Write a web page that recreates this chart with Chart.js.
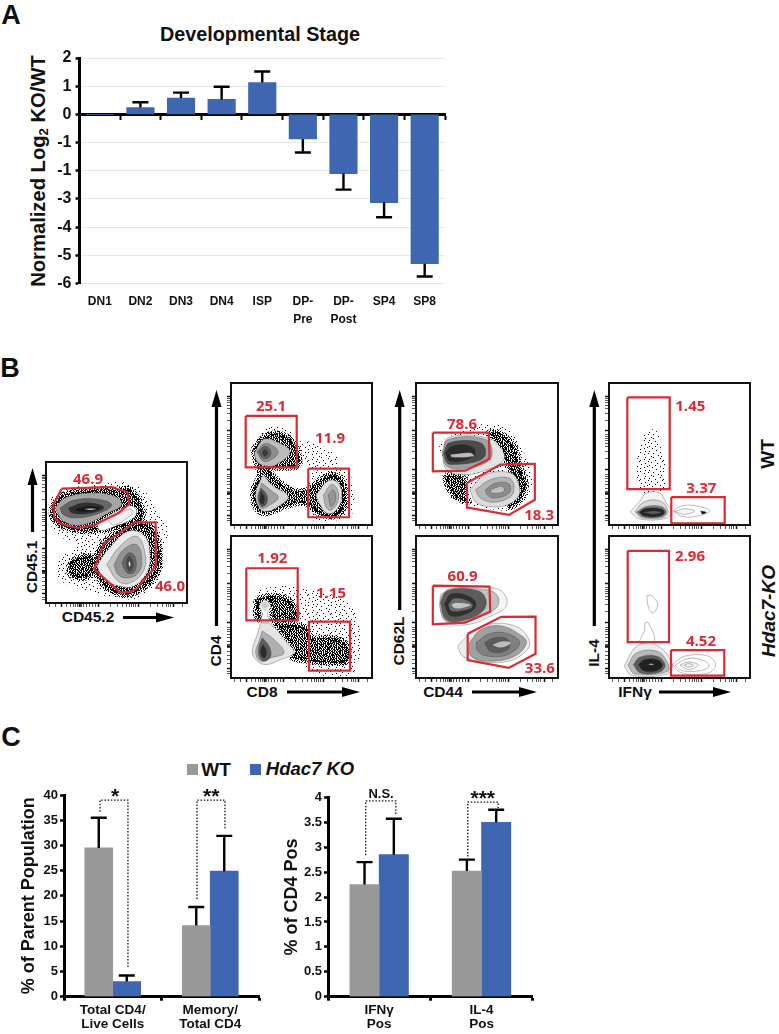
<!DOCTYPE html>
<html>
<head>
<meta charset="utf-8">
<title>Hdac7 figure</title>
<script src="https://cdn.jsdelivr.net/npm/chart.js@4/dist/chart.umd.js"></script>
<style>
    html, body { margin: 0; padding: 0; background: #fff; }
    #page { position: relative; width: 779px; height: 1034px; overflow: hidden;
        font-family: "Liberation Sans", sans-serif; font-weight: bold; color: #111; }
    #page canvas, #page svg { position: absolute; }
    .txt { position: absolute; white-space: nowrap; transform: translate(-50%, -50%); line-height: 1; }
    .rot { transform: translate(-50%, -50%) rotate(-90deg); }
    .swatch { position: absolute; width: 11px; height: 11px; }
    sub { font-size: 0.65em; vertical-align: -0.25em; line-height: 0; }
</style>
</head>
<body>
<div id="page">
    <div class="txt" style="left:11px;top:15px;font-size:27px">A</div>
    <div class="txt" style="left:10px;top:368px;font-size:27px">B</div>
    <div class="txt" style="left:11px;top:737px;font-size:27px">C</div>
    <div class="txt" style="left:260px;top:35px;font-size:19.8px">Developmental Stage</div>
    <div class="txt rot" style="left:38px;top:171px;font-size:20.2px">Normalized Log<sub>2</sub> KO/WT</div>

    <div class="txt rot" style="left:32px;top:567px;font-size:15.5px">CD45.1</div>
    <div class="txt" style="left:88px;top:617px;font-size:15.5px">CD45.2</div>
    <div class="txt rot" style="left:216px;top:651px;font-size:15.5px">CD4</div>
    <div class="txt" style="left:262px;top:692px;font-size:15.5px">CD8</div>
    <div class="txt rot" style="left:399px;top:641px;font-size:15.5px">CD62L</div>
    <div class="txt" style="left:443px;top:692px;font-size:15.5px">CD44</div>
    <div class="txt rot" style="left:594px;top:653px;font-size:15.5px">IL-4</div>
    <div class="txt" style="left:635px;top:692px;font-size:15.5px">IFNγ</div>
    <div class="txt rot" style="left:767px;top:454px;font-size:19px">WT</div>
    <div class="txt rot" style="left:768px;top:611px;font-size:19px;font-style:italic">Hdac7-KO</div>

    <div class="swatch" style="left:187px;top:764px;background:#999999"></div>
    <div class="txt" style="left:216px;top:769px;font-size:19px">WT</div>
    <div class="swatch" style="left:250px;top:764px;background:#3f67b1"></div>
    <div class="txt" style="left:310px;top:769px;font-size:18.5px;font-style:italic">Hdac7 KO</div>

    <canvas id="stage"></canvas>
    <canvas id="cd45"></canvas>
    <canvas id="cd4_wt"></canvas>
    <canvas id="cd4_ko"></canvas>
    <canvas id="cd62_wt"></canvas>
    <canvas id="cd62_ko"></canvas>
    <canvas id="il4_wt"></canvas>
    <canvas id="il4_ko"></canvas>
    <canvas id="parent"></canvas>
    <canvas id="cd4pos"></canvas>
    <svg id="arrows" width="779" height="1034" style="left:0;top:0"></svg>
</div>
<script>
// panel A
const stage_labels = ["DN1", "DN2", "DN3", "DN4", "ISP", ["DP-", "Pre"], ["DP-", "Post"], "SP4", "SP8"];
const stage_values = [0, 0.24, 0.58, 0.53, 1.13, -0.87, -2.1, -3.13, -5.3];
const stage_err = [null, 0.43, 0.77, 0.98, 1.52, -1.35, -2.67, -3.65, -5.75];
const stage_tick_values = [2, 1, 0, -1, -2, -3, -4, -5, -6];
const stage_tick_labels = ["2", "1", "0", "-1", "-1", "-3", "-4", "-5", "-6"];

// panel C
const parent_labels = [["Total CD4/", "Live Cells"], ["Memory/", "Total CD4"]];
const parent_wt = [29.5, 14.1];
const parent_ko = [3, 24.9];
const parent_wt_err = [35.5, 17.8];
const parent_ko_err = [4.2, 31.9];
const parent_brackets = [[-0.13, 36.7, 39, 0.156, 5.6], [0.864, 19.4, 39, 1.151, 33.3]];
const parent_marks = [["*", 0.023, 40.2], ["**", 1.01, 40.2]];

const cd4pos_labels = [["IFNγ", "Pos"], ["IL-4", "Pos"]];
const cd4pos_wt = [2.25, 2.52];
const cd4pos_ko = [2.85, 3.5];
const cd4pos_wt_err = [2.7, 2.75];
const cd4pos_ko_err = [3.57, 3.75];
const cd4pos_brackets = [[-0.131, 2.84, 3.93, 0.162, 3.645], [0.866, 2.81, 3.905, 1.162, 3.785]];
const cd4pos_marks = [["N.S.", 0.018, 4.06], ["***", 1.012, 4.03]];

// panel B, flow plots. all axes run 0-141, pairs are x,y
const flow_x_ticks = [3, 9, 15.7, 20, 24, 27, 29, 31, 33.3, 34, 35, 37, 40, 43, 46, 49, 52.3, 64, 71, 76, 80, 83, 85, 87, 89, 92.3, 104, 111, 116, 120, 122, 124, 127.3, 136];
const flow_y_ticks = [4, 6, 9.3, 14, 18, 22, 26, 30, 31, 31.7, 32.5, 33, 36, 40, 43, 46, 48, 50, 55, 66, 73, 78, 81, 84, 86, 88, 90, 94, 104, 111, 116, 119, 122, 124, 126, 128];

const cd45_gates = [
    [15.7, 114.3, 65.7, 116, 81.3, 110.7, 83.3, 99, 72.3, 90, 47.3, 77.3, 30.7, 75, 15.7, 79, 8.3, 85, 7.3, 98.3],
    [89, 80.7, 109.7, 80.7, 109.7, 36.7, 90.7, 14.3, 83.3, 10.7, 74, 10.7, 48, 34, 58, 59.3]
];
const cd45_gate_labels = [["46.9", 42, 123], ["46.0", 124, 16]];
const cd45_sparse = [
    [74, 121.7, 97.3, 113.3, 110.7, 91.7, 122.3, 75, 115.7, 46.7, 117.3, 30, 90.7, 5, 60.7, 6.7, 34, 15, 14, 23.3, 12.3, 43.3, 30.7, 56.7, 14, 66.7, 4, 80, 4, 103.3, 17.3, 113.3, 44, 118.3]
];
const cd45_dense = [
    [5.7, 96.7, 17.3, 108.3, 44, 113.3, 70.7, 113.3, 84, 113.3, 95.7, 96.7, 94, 80, 70.7, 75, 37.3, 71.7, 15.7, 76.7, 6.7, 85],
    [47.3, 35, 55.7, 58.3, 84, 78.3, 104, 76.7, 112.3, 60, 112.3, 33.3, 97.3, 15, 77.3, 8.3, 57.3, 18.3],
    [24, 41, 37.3, 47, 50, 44, 49, 31, 35.7, 25, 24, 29]
];
const cd45_tail = [[50.7, 80, 70.7, 91.7, 84, 97.3, 90.7, 93, 87.3, 85, 69, 76.7, 54, 72.7], [62, 82, 74, 90, 84, 94, 87, 91, 80, 84, 68, 78]];
const cd45_top = [
    [9, 95, 19, 105, 44, 110, 69, 106.7, 75.7, 98.3, 62.3, 90, 37.3, 78.3, 17.3, 81.7],
    [14, 95, 27.3, 102.7, 50.7, 104, 65.7, 98.3, 54, 90, 30.7, 85, 17.3, 88.3],
    [22.3, 95, 37.3, 100, 55.7, 97.7, 57.3, 94, 40.7, 89.3, 25.7, 90.3],
    [29, 94.3, 44, 96.7, 54, 95, 44, 91.7, 32.3, 91.7],
    [38, 94, 44, 94.4, 50, 94, 44, 93]
];
const cd45_bottom = [
    [50.7, 36.7, 60.7, 51.7, 82.3, 71.7, 99, 66.7, 104, 46.7, 100.7, 30, 87.3, 16.7, 74, 16.7, 59, 23.3],
    [60.7, 38.3, 74, 56.7, 90.7, 66.7, 99, 50, 97.3, 31.7, 84, 20, 72.3, 21.7],
    [68, 38.3, 77.3, 53.3, 90.7, 58.3, 95.7, 43.3, 92.3, 30, 81.3, 25, 72.3, 28.3],
    [75.7, 40, 82.3, 50, 89, 46.7, 89, 31.7, 81.3, 30],
    [80, 39.3, 83.3, 46.7, 87.3, 38.3, 83.3, 31.7],
    [82.5, 40, 83.5, 42, 84.5, 38, 83.5, 36]
];
const cd45_dots = [88, 122, 92, 118, 84, 125, 101, 110, 106, 104, 112, 96, 118, 88, 124, 84, 122, 72, 128, 66, 119, 60, 128, 42, 124, 36, 121, 22, 112, 14, 126, 92, 131, 78, 8, 60, 12, 52, 20, 60, 26, 66, 10, 36, 16, 18, 28, 10, 40, 8, 50, 12, 104, 8, 128, 28, 120, 12, 133, 100];

const cd4_wt_gates = [[14.7, 108.3, 65.7, 108.3, 65.7, 57.3, 14.7, 57.3], [77.3, 56, 118, 56, 118, 7.7, 77.3, 7.7]];
const cd4_wt_gate_labels = [["25.1", 40, 117.7], ["11.9", 99, 85.7]];
const cd4_wt_sparse = [
    [65.7, 83.3, 84, 81.7, 107.3, 66.7, 104, 56.7, 80.7, 56.7, 65.7, 66.7],
    [77.3, 53.3, 116.3, 53.3, 122.3, 13.3, 107.3, 5, 77.3, 8.3],
    [26, 84, 36, 96, 50, 98, 62, 90, 58, 76]
];
const cd4_wt_dense = [
    [22.3, 75, 34, 88.3, 50.7, 90, 64.7, 78.3, 67.3, 59.3, 52.3, 56.7, 39, 56, 44, 46.7, 60.7, 35, 77.3, 35, 89, 45, 100.7, 50, 110.7, 45, 114, 23.3, 107.3, 10, 90.7, 10, 72.3, 21.7, 53.7, 18.3, 34, 11.7, 24, 18.3, 22.3, 35, 29, 50, 25.7, 60]
];
const cd4_wt_a = [
    [23.3, 71.7, 32.3, 85, 44, 83.3, 59, 72.7, 44, 59.3, 32.3, 59.3, 25.7, 63.3],
    [25.7, 72.7, 33.3, 80.7, 42.3, 78.3, 47.3, 71.7, 40.7, 65, 32.3, 63.3],
    [27.3, 72.7, 33.3, 78.3, 39, 75, 39, 68.3, 32.3, 66],
    [31.3, 72.7, 34.7, 75, 36.7, 70.7, 33.3, 68.3]
];
const cd4_wt_b = [
    [32.3, 50.7, 40.7, 40, 57.3, 28.3, 47.3, 18.3, 34, 13.3, 27.3, 18.3, 24.7, 31.7, 29, 43.3],
    [30.7, 41.7, 39, 35, 47.3, 27.3, 39, 20, 30.7, 16.7, 26.7, 26.7],
    [30, 36.7, 35.7, 30, 35.7, 21.7, 30.7, 18.3, 27.3, 26.7],
    [30, 33.3, 33.3, 28.3, 32.3, 20.7, 29, 23.3]
];
const cd4_wt_c = [
    [84.7, 29.3, 97.3, 44, 107.3, 41.7, 110.7, 26.7, 104, 13.3, 95.7, 11.7, 89, 20],
    [92.3, 29.3, 100, 40, 105.7, 36.7, 107.3, 25, 100.7, 15, 95.7, 16.7],
    [97.3, 30, 102.3, 35, 104.7, 25, 100, 18.3]
];
const cd4_wt_dots = [72, 90, 78, 87, 84, 88, 90, 84, 95, 76, 101, 72, 108, 76, 112, 66, 70, 72, 74, 66, 80, 74, 86, 70, 92, 66, 98, 60, 122, 34, 126, 20, 124, 10, 40, 7, 54, 12, 18, 14, 20, 30, 70, 14, 112, 56];

const cd4_ko_gates = [[15.3, 109, 66.7, 109, 66.7, 57.3, 15.3, 57.3], [78, 56, 119, 56, 119, 7.3, 78, 7.3]];
const cd4_ko_gate_labels = [["1.92", 41.3, 118.3], ["1.15", 100, 84]];
const cd4_ko_sparse = [[24.7, 86.7, 58, 91.7, 121, 70, 123, 5, 78, 6.7, 71.3, 40, 41.3, 53.3]];
const cd4_ko_dense = [
    [43, 55, 54.7, 53.3, 74.7, 50, 81.3, 40, 100.7, 40, 115.7, 33.3, 115.7, 16.7, 98, 15, 79.7, 16.7, 61.3, 20, 64.7, 26.7, 54.7, 40],
    [25.3, 78.3, 41.3, 81.7, 56.3, 78.3, 65.3, 66.7, 63, 57.3, 43, 56.7, 41.3, 65, 39.7, 75, 34, 78.3, 28, 73.3, 29.7, 58.3, 25.3, 60]
];
const cd4_ko_upper = [
    [28, 71.7, 34, 77.3, 39.7, 71.7, 36.3, 64, 38, 56, 30, 56, 31.3, 64],
    [30, 72, 34, 75.5, 37.5, 72, 34, 67.5],
    [32, 72, 34, 73.5, 35.5, 72, 34, 70]
];
const cd4_ko_lower = [
    [29.7, 55, 39.7, 53.3, 54.7, 36.7, 63, 25, 49.7, 18.3, 34.7, 13.3, 24.7, 18.3, 21.3, 26.7, 26.3, 43.3],
    [31.3, 46.7, 43, 38.3, 53, 25, 39.7, 20, 29.7, 16.7, 24.7, 25, 28, 36.7],
    [31.3, 40, 38, 31.7, 39.7, 21.7, 33, 16.7, 28, 21.7, 28, 31.7],
    [32, 33.3, 35.3, 26.7, 34, 20, 30.7, 21.7, 29.7, 28.3]
];
const cd4_ko_dots = [18, 88, 20, 76, 44, 88, 52, 96, 30, 92, 62, 86, 76, 78, 84, 76, 92, 72, 104, 70, 112, 64, 118, 60, 122, 44, 126, 24, 124, 10, 60, 10, 70, 12, 18, 40, 16, 20, 20, 8, 44, 6];

const cd62_wt_gates = [[16.7, 91.7, 72.3, 91.7, 73, 65.7, 49, 54, 16.7, 53.3], [50.7, 41.7, 84, 60, 118, 60.7, 118, 25, 92.3, 10, 51.3, 17.3]];
const cd62_wt_gate_labels = [["78.6", 45.7, 100], ["18.3", 122.3, 9.3]];
const cd62_wt_sparse = [[64, 100, 90.7, 96.7, 110.7, 63.3, 114, 33.3, 94, 15, 60.7, 18.3, 37.3, 23.3, 27.3, 43.3, 30.7, 50, 24, 80]];
const cd62_wt_dense = [
    [70.7, 91.7, 82.3, 91.7, 97.3, 78.3, 102.3, 60, 109, 40, 102.3, 23.3, 92.3, 18.3, 100.7, 40, 90.7, 60, 84, 76.7, 72.3, 90.3],
    [29, 50, 47.3, 46.7, 49, 40, 47.3, 28.3, 52.3, 23.3, 40.7, 26.7, 30.7, 40]
];
const cd62_wt_top = [
    [25.7, 71.7, 32.3, 86.7, 70.7, 86.7, 84, 76.7, 87.3, 65, 70.7, 55, 49, 50, 30.7, 55],
    [26.3, 71.7, 32.3, 85, 69, 85, 75.7, 71.7, 69, 61.7, 47.3, 56, 30.7, 58.3],
    [27.3, 71.7, 33.3, 81.7, 64, 81.7, 69, 70, 60.7, 63.3, 37.3, 60, 30.7, 61.7],
    [29, 71.7, 35.7, 78.3, 54, 78.3, 59, 71.7, 50.7, 65, 34, 63.3],
    [34, 70, 54, 71.7, 57.3, 68.3, 35.7, 67.3]
];
const cd62_wt_low = [
    [53.3, 35, 69, 50, 94, 51.7, 102.3, 40, 100.7, 26.7, 84, 18.3, 60.7, 21.7],
    [59, 35, 74, 45, 92.3, 46.7, 97.3, 38.3, 94, 28.3, 77.3, 22.7, 64, 26.7],
    [69, 35, 79, 41.7, 92.3, 40.7, 92.3, 31.7, 77.3, 26.7, 70.7, 30],
    [74, 35, 85.7, 38.3, 87.3, 33.3, 75.3, 31.7]
];
const cd62_wt_dots = [60, 104, 74, 98, 84, 98, 92, 92, 100, 88, 96, 84, 108, 78, 104, 70, 112, 58, 116, 46, 113, 26, 106, 18, 50, 14, 40, 18, 30, 28, 24, 36, 22, 46, 52, 110];

const cd62_ko_gates = [[16.7, 91.7, 73, 90.7, 73.7, 65.7, 48.7, 55, 16.7, 53.3], [51.3, 44, 84.7, 60.7, 118.7, 61, 118.7, 24, 92, 10, 51.3, 17.7]];
const cd62_ko_gate_labels = [["60.9", 46.3, 100.7], ["33.6", 123, 9.3]];
const cd62_ko_top = [
    [24.7, 83.3, 38, 89, 71.3, 90, 86.3, 85, 89.7, 71.7, 74.7, 61.7, 53, 53.3, 31.3, 55, 24.7, 66.7],
    [24, 80, 33, 88.3, 65, 88.3, 79.7, 83.3, 81.3, 71.7, 68, 62.7, 48, 55.7, 29.7, 56.7, 24, 68.3],
    [24, 75, 31.3, 86.7, 61.3, 86.7, 69.7, 76.7, 64.7, 65, 44.7, 56.7, 29.7, 58.3],
    [28, 73.3, 34.7, 83.3, 51.3, 81.7, 59.7, 73.3, 53, 65, 34.7, 61.7],
    [32, 73.3, 38, 79.3, 53, 76, 56.3, 70.7, 46.3, 66.7, 34.7, 66.7],
    [34.7, 72.7, 39.7, 75, 54.7, 72.7, 46.3, 69.3, 38, 69.3]
];
const cd62_ko_low = [
    [41.3, 31.7, 53, 43.3, 71.3, 53.3, 98, 51.7, 111.3, 40, 110.7, 28.3, 91.3, 16.7, 61.3, 16.7, 46.3, 21.7],
    [53, 35, 64.7, 48.3, 84.7, 51.7, 103, 43.3, 109.7, 35, 98, 21.7, 71.3, 16.7, 54.7, 21.7],
    [59.7, 35, 73, 44, 91.3, 44, 103, 35, 91.3, 23.3, 71.3, 21.7, 61.3, 26.7],
    [68, 35, 78, 40, 91.3, 38.3, 91.3, 28.3, 74.7, 26],
    [74.7, 32.7, 86.3, 36.7, 94.7, 35, 84.7, 30]
];
const cd62_ko_dots = [82, 100, 85, 92, 88, 104, 96, 98, 100, 88, 104, 80, 92, 78, 106, 70, 96, 70, 90, 90, 34, 44, 30, 38, 36, 30, 28, 34, 48, 48, 114, 50, 116, 34];

const il4_wt_gates = [[18.3, 126.7, 60.7, 126.7, 60.7, 35.7, 18.3, 35.7], [62.3, 27.7, 115.7, 27.7, 115.7, 1.7, 62.3, 1.7]];
const il4_wt_gate_labels = [["1.45", 81.3, 117.7], ["3.37", 92.3, 36]];
const il4_wt_sparse = [[35.7, 90, 45.7, 95, 52.3, 80, 55.7, 36.7, 30.7, 36.7, 29, 73.3], [32, 36, 54, 36, 50, 31, 36, 31]];
const il4_wt_main = [
    [21.3, 13.3, 30.7, 23.3, 37.3, 31.7, 50.7, 31.7, 57.3, 21.7, 62.3, 13.3, 57.3, 6.7, 30.7, 6],
    [25.7, 13.3, 35.7, 23.3, 52.3, 23.3, 59, 13.3, 54, 7.3, 32.3, 7.3],
    [27.3, 12.7, 37.3, 18.3, 52.3, 18.3, 57.3, 12.7, 52.3, 8, 34, 8],
    [30, 12.7, 37.3, 16.7, 52.3, 16, 55.7, 12.3, 50.7, 8.7, 35.7, 8.7],
    [34, 12.7, 44, 14, 52.3, 12.7, 44, 10.7]
];
const il4_wt_right = [
    [64, 14, 74, 19.3, 90.7, 18.3, 100.7, 14, 90.7, 9.3, 74, 8.3],
    [65.7, 13.3, 75.7, 16, 85.7, 14, 75.7, 10.7]
];
const il4_wt_spot = [[91.7, 14, 97.3, 12.7, 93.3, 11]];
const il4_wt_dots = [38, 96, 42, 90, 48, 88, 34, 84, 52, 82, 36, 78, 41, 72, 45, 68, 38, 64, 43, 60, 47, 56, 40, 52, 44, 48, 42, 44, 46, 41, 38, 42, 60, 66, 65, 62, 74, 44, 82, 36, 76, 52, 70, 24, 80, 22, 88, 22, 96, 20, 104, 12, 110, 12, 84, 6, 16, 12, 12, 12, 20, 9, 26, 38, 58, 40, 56, 34, 104, 16, 90, 4];

const il4_ko_gates = [[18.7, 126.3, 60, 126.3, 60, 35.7, 18.7, 35.7], [62, 27.7, 115.3, 27.7, 115.3, 2.3, 62, 2.3]];
const il4_ko_gate_labels = [["2.96", 81, 120], ["4.52", 92, 36]];
const il4_ko_thin = [
    [37.7, 81.7, 42.7, 81.7, 48.7, 73.3, 44.3, 64.7, 40, 68.7],
    [36, 55, 39.3, 55, 45.3, 36.7, 31, 35, 35.3, 46.7]
];
const il4_ko_main = [
    [15.3, 11.7, 26, 30, 37.7, 35, 47.7, 32.7, 59.3, 21.7, 63.3, 10, 56, 3.3, 22.7, 2.7],
    [18.7, 12.7, 27.7, 25, 47.7, 26.7, 57.7, 16.7, 58.7, 6.7, 26, 4],
    [24.3, 13.3, 31, 20.7, 47.7, 21.7, 56, 13.3, 51, 6, 31, 5.3],
    [29.3, 13.3, 36, 18.3, 47.7, 18.3, 53.3, 12.7, 47.7, 7.3, 34.3, 7.3],
    [39, 13.6, 42, 14.2, 45, 13.6, 42, 13]
];
const il4_ko_right = [
    [63.3, 13.3, 76, 21.7, 99.3, 21.7, 106.7, 13.3, 99.3, 5, 72.7, 5],
    [66, 12.7, 79.3, 19.3, 94.3, 17.3, 100, 11.7, 91, 7.3, 72.7, 7.3],
    [71, 12.7, 79.3, 16, 89.3, 12.7, 79.3, 8.3],
    [75.3, 12.7, 79.3, 14.3, 84.3, 12.7, 79.3, 10.7]
];
const il4_ko_dots = [36, 86, 34, 74, 38, 62, 32, 58, 44, 82, 100, 84, 78, 40, 110, 30, 116, 18];

const flow_arrows = [
    [32.5, 532, 32.5, 468], [123, 617.5, 174, 617.5],
    [216.5, 626, 216.5, 390], [287, 692, 360, 692],
    [399.7, 610, 399.7, 390], [472, 692, 537, 692],
    [594.3, 626, 594.3, 390], [659, 692, 731, 692]
];

const BLUE = "#3f67b1", GRAY = "#999999", RED = "#d92b35";
const FONT = "'Liberation Sans', sans-serif";

const STIPPLE_DENSE = [
    "##.#.###.##.#.##.#.",
    ".#.##.#..#.###.#.##",
    "#.###.##.#.#.##.#.#",
    "##.#.##.###.#.#.##.",
    ".##.#..##.#.###.#.#",
    "#.#.###.#.##.#.##.#",
    "##.#.#.##.#.###.#..",
    ".#.###.#.##.#.#.###",
    "#.##.#.###.#.##.#.#",
    "##.#.##.#.##.#.##..",
    ".###.#.#.###.##.#.#",
    "#.#.##.##.#.#.###.#",
    "##.#.#.###.##.#.#.#",
    ".#.##.##.#.#.##.###",
    "#.##.#.#.##.#.##.#.",
    "##.#.###.#.##.#.#.#",
    ".#.#.#.##.#.###.##."
];
const STIPPLE_MEDIUM = [
    "#.#..#.##.#",
    "..#.#...#..",
    "#...#.#.#.#",
    ".##...#...#",
    "#..#.#..##.",
    ".#...#.#...",
    "#.#.#...#.#",
    "..#..#.#..#",
    "#...#..#.#.",
    ".#.#..#...#",
    "#..#.#..#..",
    "..#...#.#.#",
    ".#..#.#...#"
];
const STIPPLE_SPARSE = [
    "....#..............#...",
    "...........#...........",
    "#.................#....",
    "......#.......#........",
    ".............#........#",
    "..#....................",
    "........#..........#...",
    "...............#.......",
    "#.....#................",
    "...........#.........#.",
    "...#..............#....",
    "..............#........",
    ".......#...............",
    "#..................#...",
    "...........#..#........",
    "....#.................#",
    "..................#....",
    ".........#.............",
    "..#.........#.........."
];

function pairs(flat) {
    const pts = [];
    for (let i = 0; i < flat.length; i += 2) pts.push({x: flat[i], y: flat[i + 1]});
    return pts;
}

function closed(flat) {
    const pts = pairs(flat);
    pts.push(pts[0]);
    return pts;
}

function make_pattern(rows) {
    const tile = document.createElement("canvas");
    tile.width = rows[0].length;
    tile.height = rows.length;
    const ctx = tile.getContext("2d");
    ctx.fillStyle = "#000";
    rows.forEach((row, y) => {
        [...row].forEach((c, x) => {
            if (c === "#") ctx.fillRect(x, y, 1, 1);
        });
    });
    return ctx.createPattern(tile, "repeat");
}

const dense_fill = make_pattern(STIPPLE_DENSE);
const medium_fill = make_pattern(STIPPLE_MEDIUM);
const sparse_fill = make_pattern(STIPPLE_SPARSE);

function sparse_set(flat) {
    return {data: closed(flat), showLine: true, fill: "shape", backgroundColor: sparse_fill,
        borderWidth: 0, pointRadius: 0, tension: 0.35};
}

function dense_set(flat) {
    return {data: closed(flat), showLine: true, fill: "shape", backgroundColor: dense_fill,
        borderColor: medium_fill, borderWidth: 6, pointRadius: 0, tension: 0.35};
}

function ring_set(flat, shade) {
    return {data: closed(flat), showLine: true, fill: "shape", backgroundColor: shade,
        borderColor: "rgba(50,50,50,0.55)", borderWidth: 0.6, pointRadius: 0, tension: 0.4};
}

function gate_set(flat) {
    return {data: closed(flat), showLine: true, fill: false, borderColor: RED,
        borderWidth: 2.2, pointRadius: 0, tension: 0};
}

function dot_set(flat) {
    return {data: pairs(flat), pointRadius: 0.7, pointStyle: "rect", backgroundColor: "#000",
        borderWidth: 0, showLine: false};
}

const box_and_labels = labels => ({
    id: "box_and_labels",
    afterDraw(chart) {
        const {ctx, chartArea: a, scales} = chart;
        ctx.save();
        ctx.strokeStyle = "#111";
        ctx.lineWidth = 2;
        ctx.strokeRect(a.left, a.top, a.right - a.left, a.bottom - a.top);
        ctx.fillStyle = RED;
        ctx.font = "bold 15px 'Open Sans', sans-serif";
        ctx.textAlign = "center";
        ctx.textBaseline = "middle";
        for (const [text, x, y] of labels) {
            ctx.fillText(text, scales.x.getPixelForValue(x), scales.y.getPixelForValue(y));
        }
        ctx.restore();
    }
});

function flow_chart(id, left, top, w, h, plot) {
    const canvas = document.getElementById(id);
    canvas.width = w + 8;
    canvas.height = h + 8;
    canvas.style.left = (left - 6) + "px";
    canvas.style.top = (top - 2) + "px";
    canvas.style.filter = "blur(0.45px)";
    const datasets = [];
    for (const a of plot.sparse || []) datasets.push(sparse_set(a));
    for (const a of plot.dense || []) datasets.push(dense_set(a));
    for (const d of plot.dots || []) datasets.push(dot_set(d));
    for (const [rings, shades] of plot.pops) {
        rings.forEach((r, i) => datasets.push(ring_set(r, shades[i])));
    }
    for (const g of plot.gates) datasets.push(gate_set(g));
    datasets.reverse();
    const axis = (ticks, size_key) => ({
        type: "linear", min: 0, max: 141,
        afterBuildTicks: s => { s.ticks = ticks.map(value => ({value})); },
        afterFit: s => { s[size_key] = 6; },
        ticks: {display: false},
        border: {display: false},
        grid: {drawOnChartArea: false, tickLength: 4, tickColor: "#111",
            tickWidth: c => [15.7, 33.3, 52.3, 92.3, 127.3, 9.3, 31.7, 55, 94, 128].includes(c.tick.value) ? 1.5 : 0.7}
    });
    new Chart(canvas, {
        type: "scatter",
        data: {datasets},
        options: {
            responsive: false,
            animation: false,
            events: [],
            layout: {padding: {top: 2, right: 2}},
            plugins: {legend: {display: false}, tooltip: {enabled: false}},
            scales: {x: axis(flow_x_ticks, "height"), y: axis(flow_y_ticks, "width")}
        },
        plugins: [box_and_labels(plot.labels)]
    });
}

// whiskers and brackets go through the chart's own scales
const whiskers = (series, cap) => ({
    id: "whiskers",
    afterDatasetsDraw(chart) {
        const {ctx, scales} = chart;
        ctx.save();
        ctx.strokeStyle = "#000";
        ctx.lineWidth = 2.4;
        series.forEach((errs, i) => {
            const meta = chart.getDatasetMeta(i);
            errs.forEach((err, j) => {
                if (err === null) return;
                const x = meta.data[j].x,
                    y0 = scales.y.getPixelForValue(chart.data.datasets[i].data[j]),
                    y1 = scales.y.getPixelForValue(err);
                ctx.beginPath();
                ctx.moveTo(x, y0);
                ctx.lineTo(x, y1);
                ctx.moveTo(x - cap, y1);
                ctx.lineTo(x + cap, y1);
                ctx.stroke();
            });
        });
        ctx.restore();
    }
});

const brackets = (lines, marks) => ({
    id: "brackets",
    afterDraw(chart) {
        const {ctx, scales: {x, y}} = chart;
        ctx.save();
        ctx.strokeStyle = "#111";
        ctx.lineWidth = 1.3;
        ctx.setLineDash([1.5, 1.7]);
        for (const [x0, y0, top, x1, y1] of lines) {
            ctx.beginPath();
            ctx.moveTo(x.getPixelForValue(x0), y.getPixelForValue(y0));
            ctx.lineTo(x.getPixelForValue(x0), y.getPixelForValue(top));
            ctx.lineTo(x.getPixelForValue(x1), y.getPixelForValue(top));
            ctx.lineTo(x.getPixelForValue(x1), y.getPixelForValue(y1));
            ctx.stroke();
        }
        ctx.fillStyle = "#111";
        ctx.textAlign = "center";
        ctx.textBaseline = "middle";
        for (const [text, mx, my] of marks) {
            const stars = text.includes("*");
            ctx.font = stars ? "bold 21px " + FONT : "bold 13px " + FONT;
            ctx.fillText(text, x.getPixelForValue(mx), y.getPixelForValue(my) + (stars ? 3 : 0));
        }
        ctx.restore();
    }
});

function place(id, left, top, w, h) {
    const canvas = document.getElementById(id);
    canvas.width = w;
    canvas.height = h;
    canvas.style.left = left + "px";
    canvas.style.top = top + "px";
    return canvas;
}

function stage_chart() {
    new Chart(place("stage", 0, 28, 460, 302), {
        type: "bar",
        data: {
            labels: stage_labels,
            datasets: [{data: stage_values, backgroundColor: BLUE, barThickness: 27.5, borderSkipped: false}]
        },
        options: {
            responsive: false,
            animation: false,
            events: [],
            layout: {padding: {top: 30, right: 15}},
            plugins: {legend: {display: false}, tooltip: {enabled: false}},
            scales: {
                x: {
                    afterFit: s => { s.height = 46.5; },
                    border: {display: false},
                    grid: {display: false},
                    ticks: {color: "#111", padding: 1, maxRotation: 0, autoSkip: false,
                        font: {family: FONT, weight: "bold", size: 12, lineHeight: 1.5}}
                },
                x2: {
                    type: "category",
                    labels: stage_labels,
                    position: {y: 0},
                    offset: true,
                    z: 1,
                    border: {color: "#000", width: 3},
                    ticks: {display: false},
                    grid: {offset: true, drawOnChartArea: false, tickLength: 4, tickWidth: 2, tickColor: "#000"}
                },
                y: {
                    min: -6,
                    max: 2,
                    afterFit: s => { s.width = 79.5; },
                    border: {color: "#000", width: 3},
                    grid: {color: "#e8e8e8", lineWidth: 1, tickColor: "#000", tickWidth: 2.5, tickLength: 4},
                    ticks: {
                        stepSize: 1, color: "#111", padding: 4,
                        font: {family: FONT, weight: "bold", size: 16},
                        callback: v => stage_tick_labels[stage_tick_values.indexOf(v)]
                    }
                }
            }
        },
        plugins: [whiskers([stage_err], 8)]
    });
}

function group_chart(id, left, width, y_width, pad_top, pad_right, opts) {
    new Chart(place(id, left, 780, width, 254), {
        type: "bar",
        data: {
            labels: opts.labels,
            datasets: [
                {label: "WT", data: opts.wt, backgroundColor: GRAY, barThickness: opts.bar},
                {label: "Hdac7 KO", data: opts.ko, backgroundColor: BLUE, barThickness: opts.bar}
            ]
        },
        options: {
            responsive: false,
            animation: false,
            events: [],
            layout: {padding: {top: pad_top, right: pad_right}},
            plugins: {legend: {display: false}, tooltip: {enabled: false}},
            scales: {
                x: {
                    afterFit: s => { s.height = 37.3; },
                    z: 1,
                    border: {color: "#000", width: 3},
                    grid: {drawOnChartArea: false, tickLength: 4, tickWidth: 3, tickColor: "#000"},
                    ticks: {color: "#111", padding: 3, maxRotation: 0, autoSkip: false,
                        font: {family: FONT, weight: "bold", size: 13.5, lineHeight: 1}}
                },
                y: {
                    min: 0,
                    max: opts.max,
                    afterFit: s => { s.width = y_width; },
                    border: {color: "#000", width: 3},
                    grid: {drawOnChartArea: false, tickLength: 4, tickWidth: 2.5, tickColor: "#000"},
                    title: {display: true, text: opts.title, color: "#111",
                        padding: {top: opts.title_pad, bottom: 0},
                        font: {family: FONT, weight: "bold", size: 18}},
                    ticks: {stepSize: opts.step, color: "#111", padding: 2,
                        font: {family: FONT, weight: "bold", size: 13},
                        callback: v => String(v)}
                }
            }
        },
        plugins: [whiskers([opts.wt_err, opts.ko_err], 8), brackets(opts.brackets, opts.marks)]
    });
}

function draw_arrows() {
    const svg = document.getElementById("arrows");
    let out = "";
    for (const [x1, y1, x2, y2] of flow_arrows) {
        if (x1 === x2) {
            out += `<line x1="${x1}" y1="${y1}" x2="${x2}" y2="${y2 + 12}" stroke="#000" stroke-width="3.2"/>`;
            out += `<polygon points="${x2},${y2} ${x2 - 5},${y2 + 17} ${x2 + 5},${y2 + 17}" fill="#000"/>`;
        } else {
            out += `<line x1="${x1}" y1="${y1}" x2="${x2 - 12}" y2="${y2}" stroke="#000" stroke-width="3.2"/>`;
            out += `<polygon points="${x2},${y2} ${x2 - 18},${y2 - 5} ${x2 - 18},${y2 + 5}" fill="#000"/>`;
        }
    }
    svg.innerHTML = out;
}

stage_chart();

flow_chart("cd45", 46, 462, 141, 141, {
    sparse: cd45_sparse, dense: cd45_dense, dots: cd45_dots,
    pops: [
        [cd45_tail, ["#ffffff", "#eeeeee"]],
        [cd45_top, ["#a6a6a6", "#666666", "#2e2e2e", "#141414", "#d8d8d8"]],
        [cd45_bottom, ["#ececec", "#c4c4c4", "#929292", "#666666", "#484848", "#ffffff"]]
    ],
    gates: cd45_gates, labels: cd45_gate_labels
});
flow_chart("cd4_wt", 231, 383, 141, 142, {
    sparse: cd4_wt_sparse, dense: cd4_wt_dense, dots: cd4_wt_dots,
    pops: [
        [cd4_wt_a, ["#bcbcbc", "#8c8c8c", "#606060", "#3a3a3a"]],
        [cd4_wt_b, ["#d4d4d4", "#a0a0a0", "#585858", "#2c2c2c"]],
        [cd4_wt_c, ["#dedede", "#b0b0b0", "#949494"]]
    ],
    gates: cd4_wt_gates, labels: cd4_wt_gate_labels
});
flow_chart("cd4_ko", 231, 536, 141, 142, {
    sparse: cd4_ko_sparse, dense: cd4_ko_dense, dots: cd4_ko_dots,
    pops: [
        [cd4_ko_upper, ["#ffffff", "#f0f0f0", "#d8d8d8"]],
        [cd4_ko_lower, ["#e4e4e4", "#b0b0b0", "#5c5c5c", "#2a2a2a"]]
    ],
    gates: cd4_ko_gates, labels: cd4_ko_gate_labels
});
flow_chart("cd62_wt", 416, 383, 142, 142, {
    sparse: cd62_wt_sparse, dense: cd62_wt_dense, dots: cd62_wt_dots,
    pops: [
        [cd62_wt_top, ["#e4e4e4", "#a0a0a0", "#4c4c4c", "#2a2a2a", "#bcbcbc"]],
        [cd62_wt_low, ["#dcdcdc", "#b4b4b4", "#8c8c8c", "#c0c0c0"]]
    ],
    gates: cd62_wt_gates, labels: cd62_wt_gate_labels
});
flow_chart("cd62_ko", 416, 536, 142, 142, {
    dots: cd62_ko_dots,
    pops: [
        [cd62_ko_top, ["#f6f6f6", "#c0c0c0", "#5c5c5c", "#303030", "#6c6c6c", "#c4c4c4"]],
        [cd62_ko_low, ["#ececec", "#a0a0a0", "#808080", "#5c5c5c", "#bcbcbc"]]
    ],
    gates: cd62_ko_gates, labels: cd62_ko_gate_labels
});
flow_chart("il4_wt", 609, 383, 141, 142, {
    sparse: il4_wt_sparse, dots: il4_wt_dots,
    pops: [
        [il4_wt_main, ["#f4f4f4", "#d8d8d8", "#808080", "#262626", "#5c5c5c"]],
        [il4_wt_right, ["#ffffff", "#f6f6f6"]],
        [il4_wt_spot, ["#111111"]]
    ],
    gates: il4_wt_gates, labels: il4_wt_gate_labels
});
flow_chart("il4_ko", 609, 536, 141, 142, {
    dots: il4_ko_dots,
    pops: [
        [il4_ko_thin, ["#ffffff", "#ffffff"]],
        [il4_ko_main, ["#ececec", "#b8b8b8", "#5c5c5c", "#202020", "#ffffff"]],
        [il4_ko_right, ["#ffffff", "#ffffff", "#f6f6f6", "#f0f0f0"]]
    ],
    gates: il4_ko_gates, labels: il4_ko_gate_labels
});

group_chart("parent", 0, 270, 64, 15, 11, {
    labels: parent_labels, wt: parent_wt, ko: parent_ko, wt_err: parent_wt_err, ko_err: parent_ko_err,
    brackets: parent_brackets, marks: parent_marks, max: 40, step: 5, bar: 28,
    title: "% of Parent Population", title_pad: 18
});
group_chart("cd4pos", 270, 280, 58, 17.3, 17.3, {
    labels: cd4pos_labels, wt: cd4pos_wt, ko: cd4pos_ko, wt_err: cd4pos_wt_err, ko_err: cd4pos_ko_err,
    brackets: cd4pos_brackets, marks: cd4pos_marks, max: 4, step: 0.5, bar: 29.3,
    title: "% of CD4 Pos", title_pad: 11
});

draw_arrows();
</script>
</body>
</html>
